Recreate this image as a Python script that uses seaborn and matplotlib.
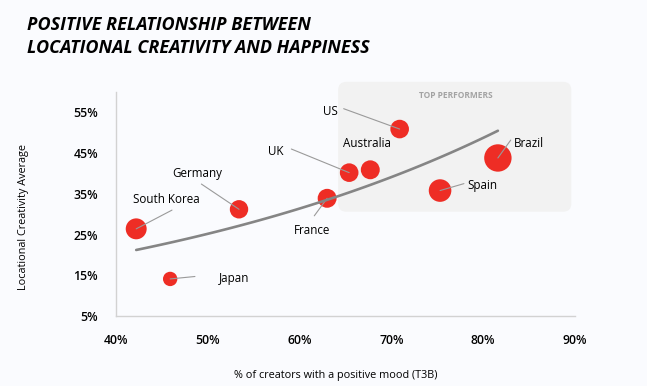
import matplotlib
matplotlib.use("Agg")

import matplotlib.pyplot as plt
import numpy as np
import pandas as pd
import seaborn as sns
from matplotlib.patches import FancyBboxPatch

# values
countries = ["South Korea", "Germany", "Japan", "France", "UK",
             "Australia", "US", "Brazil", "Spain"]
positive_mood = [42.2, 53.4, 45.9, 63.0, 65.4, 67.7, 70.9, 81.6, 75.3]
creativity = [26.4, 31.2, 14.1, 33.9, 40.2, 40.9, 50.9, 43.8, 35.8]
bubble = [110, 85, 52, 90, 87, 90, 87, 188, 128]

x_ticks = [40, 50, 60, 70, 80, 90]
y_ticks = [5, 15, 25, 35, 45, 55]

BG = "#FAFBFE"
RED = "#EE2D25"
FONT = "Open Sans"

df = pd.DataFrame({"country": countries, "mood": positive_mood,
                   "creativity": creativity, "bubble": bubble})

sns.set_style("white")
plt.rcParams["font.family"] = [FONT, "DejaVu Sans"]

fig = plt.figure(figsize=(6.47, 3.86), dpi=100, facecolor=BG)
ax = fig.add_axes([116 / 647, 1 - 316 / 386, 459 / 647, 224 / 386])
ax.set_facecolor(BG)

ax.set_xlim(40, 90)
ax.set_ylim(5, 60)

# top performers box (rounded, reaching above the axes)
box = FancyBboxPatch((64.2, 30.6), 89.6 - 64.2, 62.5 - 30.6,
                     boxstyle="round,pad=0,rounding_size=0.9",
                     mutation_aspect=2.25, facecolor="#F2F2F2",
                     edgecolor="none", clip_on=False, zorder=0)
ax.add_patch(box)
ax.text(77.0, 59.1, "TOP PERFORMERS", ha="center", va="center",
        fontsize=6, fontweight="bold", color="#A3A3A3", zorder=1)

sns.scatterplot(data=df, x="mood", y="creativity", size="bubble",
                sizes=(107, 389), color=RED, edgecolor="none", linewidth=0,
                alpha=1, legend=False, ax=ax, zorder=2)

# exponential trend line fitted to the points
b, a = np.polyfit(df["mood"], np.log(df["creativity"]), 1)
tx = np.linspace(df["mood"].min(), df["mood"].max(), 100)
ax.plot(tx, np.exp(a + b * tx), color="#858585", lw=1.9,
        solid_capstyle="round", zorder=4)

# label text position, alignment and leader start
label_pos = {
    "US": (63.4, 55.2, "center", (64.8, 55.9)),
    "Australia": (67.3, 47.3, "center", None),
    "UK": (57.4, 45.5, "center", (59.1, 46.0)),
    "Brazil": (83.3, 47.3, "left", (83.0, 48.2)),
    "Spain": (78.3, 37.0, "left", (77.9, 37.5)),
    "France": (61.4, 26.1, "center", (61.6, 29.6)),
    "Germany": (48.9, 39.9, "center", (49.3, 37.4)),
    "South Korea": (45.5, 33.7, "center", (46.1, 31.0)),
    "Japan": (51.2, 14.3, "left", (48.6, 14.7)),
}
for _, row in df.iterrows():
    lx, ly, ha, lead = label_pos[row["country"]]
    ax.text(lx, ly, row["country"], ha=ha, va="center", fontsize=8.4,
            color="#000000", zorder=5)
    if lead is not None:
        ax.plot([lead[0], row["mood"]], [lead[1], row["creativity"]],
                color="#9A9A9A", lw=0.8, zorder=3)

ax.set_xticks(x_ticks)
ax.set_xticklabels([f"{t}%" for t in x_ticks])
ax.set_yticks(y_ticks)
ax.set_yticklabels([f"{t}%" for t in y_ticks])
ax.tick_params(axis="both", length=0, labelsize=8.8, labelcolor="#000000")
ax.tick_params(axis="x", pad=13)
ax.tick_params(axis="y", pad=13)
for lbl in ax.get_xticklabels() + ax.get_yticklabels():
    lbl.set_fontweight("semibold")

for side in ["top", "right"]:
    ax.spines[side].set_visible(False)
for side in ["left", "bottom"]:
    ax.spines[side].set_color("#D2D2D2")
    ax.spines[side].set_linewidth(1.0)

ax.set_xlabel("% of creators with a positive mood (T3B)", fontsize=7.8,
              color="#000000")
ax.set_ylabel("Locational Creativity Average", fontsize=7.8, color="#000000")
ax.xaxis.set_label_coords(0.479, -0.241)
ax.yaxis.set_label_coords(-0.19, 0.44)

fig.text(27 / 647, 1 - 25 / 386, "POSITIVE RELATIONSHIP BETWEEN",
         ha="left", va="center", fontsize=13, fontweight="bold",
         fontstyle="italic", color="#000000")
fig.text(27 / 647, 1 - 48 / 386, "LOCATIONAL CREATIVITY AND HAPPINESS",
         ha="left", va="center", fontsize=13, fontweight="bold",
         fontstyle="italic", color="#000000")

fig.savefig("out.png", dpi=100, facecolor=BG)
plt.close(fig)
